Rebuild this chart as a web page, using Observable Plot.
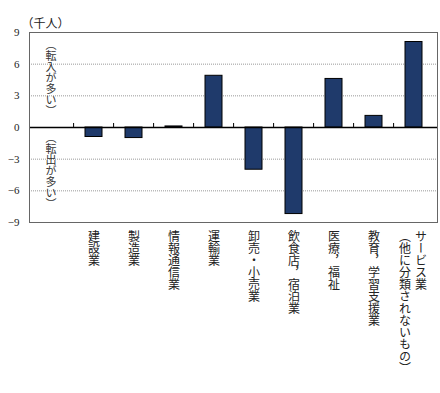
<!DOCTYPE html>
<html><head><meta charset="utf-8">
<script src="https://cdn.jsdelivr.net/npm/d3@7"></script>
<script src="https://cdn.jsdelivr.net/npm/@observablehq/plot@0.6"></script>
<style>body{margin:0;background:#fff} text.vt{writing-mode:vertical-rl;}</style>
</head><body><div id="chart"></div>
<script>
const categories = ["", "建設業", "製造業", "情報通信業", "運輸業", "卸売・小売業", "飲食店，宿泊業", "医療，福祉", "教育，学習支援業", "サービス業（他に分類されないもの）"];
const values = [null, -0.9, -1.0, 0.1, 4.9, -4.0, -8.2, 4.6, 1.1, 8.1];
const labelColumns = [[], ["建設業"], ["製造業"], ["情報通信業"], ["運輸業"], ["卸売・小売業"], ["飲食店，宿泊業"], ["医療，福祉"], ["教育，学習支援業"], ["サービス業", "（他に分類されないもの）"]];
const yTicks = [-9, -6, -3, 0, 3, 6, 9];
const gridTicks = [-6, -3, 3, 6];
const unitLabel = "（千人）";
const noteIn = "（転入が多い）";
const noteOut = "（転出が多い）";

const W = 440, H = 393, mL = 29, mR = 3, mT = 32, mB = 171;
const step = (W - mL - mR) / categories.length;

const bars = categories.map((c, i) => ({category: c, value: values[i]})).filter(d => d.value != null);
const labels = [];
labelColumns.forEach((cols, i) => cols.forEach((t, j) => labels.push({category: categories[i], text: t, offset: (cols.length - 1) * 7 - j * 16})));
const byOffset = d3.groups(labels, d => d.offset);
const verticalTexts = new Set([...labels.map(d => d.text), noteIn, noteOut]);

const svg = Plot.plot({
  width: W, height: H,
  marginLeft: mL, marginRight: mR, marginTop: mT, marginBottom: mB,
  style: {fontFamily: "'Noto Sans CJK JP', sans-serif", fontSize: "12px", color: "#222", background: "#fff"},
  x: {domain: categories, paddingInner: 0.58, paddingOuter: 0.29, axis: null},
  y: {domain: [-9, 9], axis: null},
  marks: [
    Plot.ruleY(gridTicks, {stroke: "#999", strokeDasharray: "1,1"}),
    Plot.axisY({ticks: yTicks, tickSize: 0, tickPadding: 10, label: null, fontSize: 11, fontFamily: "'Liberation Serif', serif", tickFormat: d => d < 0 ? "−" + (-d) : String(d)}),
    Plot.barY(bars, {x: "category", y: "value", fill: "#1f3a6b", stroke: "#000", strokeWidth: 1}),
    Plot.tickX(categories.slice(1), {x: d => d, dx: -step / 2, stroke: "#000", strokeWidth: 1}),
    Plot.ruleY([0], {stroke: "#000", strokeWidth: 1.3}),
    Plot.frame({stroke: "#666"}),
    ...byOffset.map(([off, rows]) => Plot.text(rows, {x: "category", text: "text", frameAnchor: "bottom", dy: 8, dx: off, textAnchor: "start", fontSize: 12, fill: "#222"})),
    Plot.text([noteIn], {x: () => categories[0], y: () => 9, text: d => d, dy: 3, dx: -3, textAnchor: "start", fontSize: 11, fill: "#333"}),
    Plot.text([noteOut], {x: () => categories[0], y: () => 0, text: d => d, dy: 1, dx: -3, textAnchor: "start", fontSize: 11, fill: "#333"}),
    Plot.text([unitLabel], {frameAnchor: "top-left", text: d => d, dx: -8, dy: -5, lineAnchor: "bottom", textAnchor: "start", fontSize: 12, fill: "#222"})
  ]
});
svg.querySelectorAll("text").forEach(t => {
  if (verticalTexts.has(t.textContent)) {
    t.removeAttribute("dy");
    t.classList.add("vt");
    t.setAttribute("writing-mode", "vertical-rl");
    t.style.writingMode = "vertical-rl";
    t.setAttribute("text-anchor", "start");
  }
});
// zero-line ticks: short, pointing up from zero
const y0 = mT + (H - mT - mB) / 2;
svg.querySelectorAll('g[aria-label="tick"] line').forEach(l => {
  l.setAttribute("y1", y0 - 4);
  l.setAttribute("y2", y0);
});
document.getElementById("chart").appendChild(svg);
</script>
</body></html>
